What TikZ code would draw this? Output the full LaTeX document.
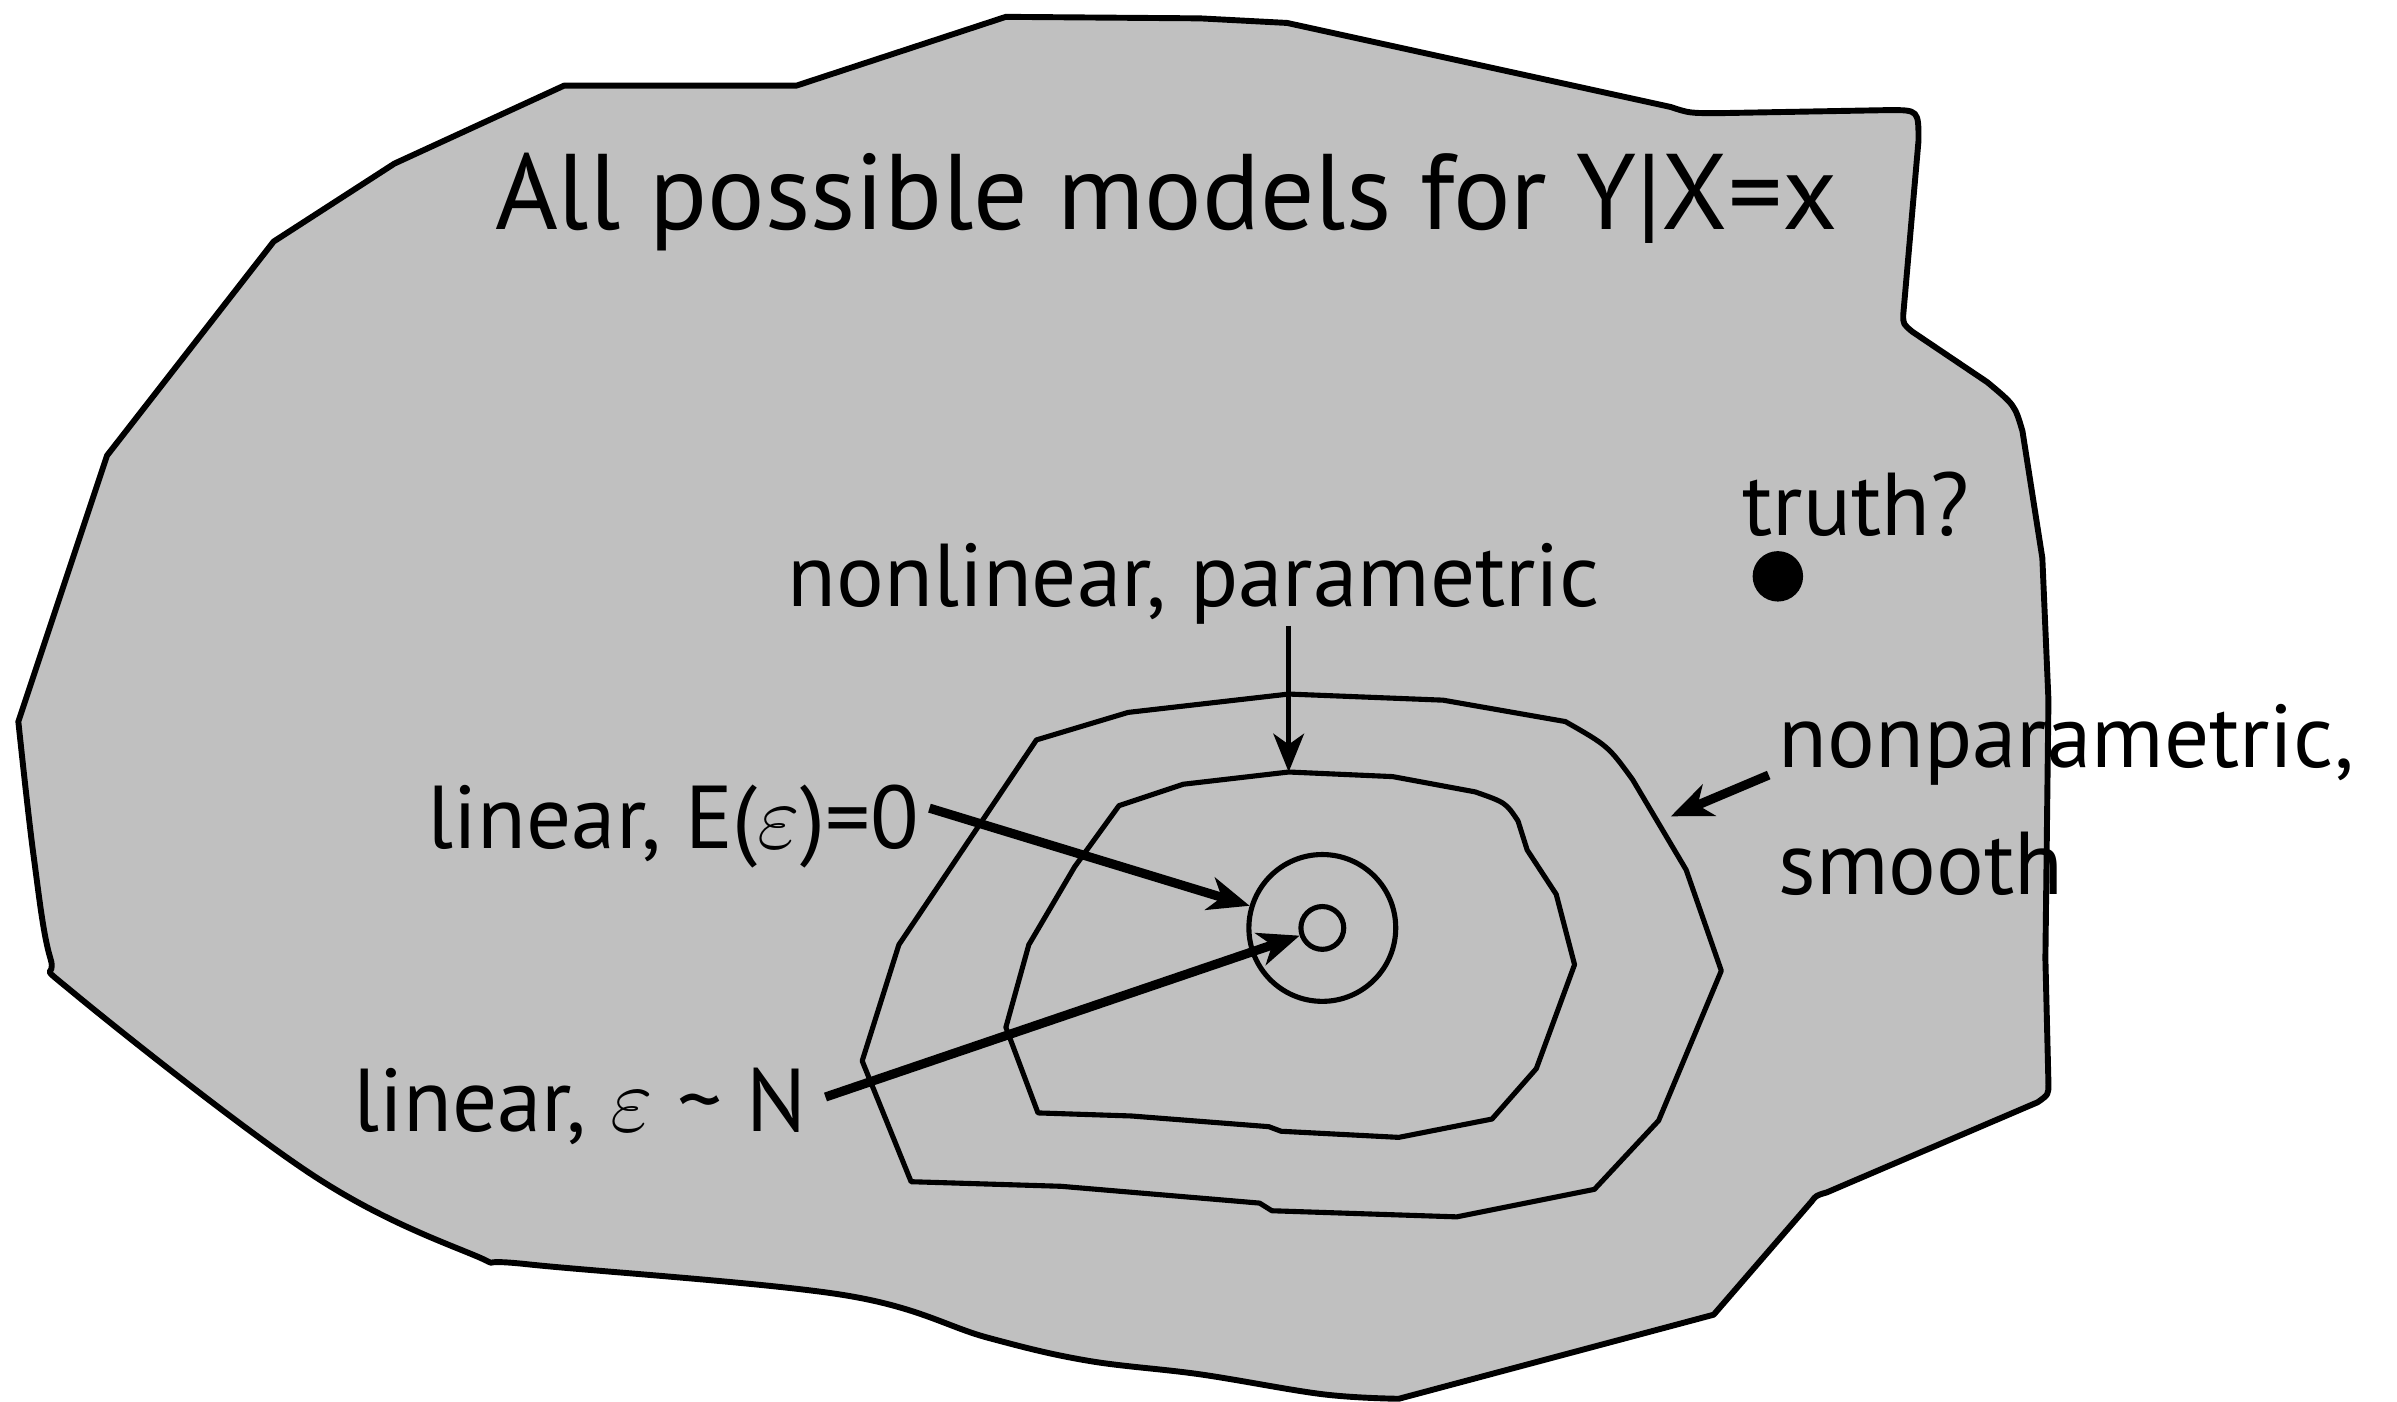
\documentclass[tikz,border=0pt]{standalone}
\usepackage{fontspec}
\setmainfont{PT Sans}
\usepackage{tikz}
\usetikzlibrary{arrows.meta,positioning}
\definecolor{blobgray}{RGB}{192,192,192}

\begin{document}
\begin{tikzpicture}[
    x=0.01cm, y=-0.01cm,
    region/.style={draw, line width=1.1pt, fill=blobgray, line join=round},
    contour/.style={draw, line width=0.95pt, line join=round},
    ring/.style={circle, draw, line width=0.95pt, inner sep=0pt, minimum size=#1},
    label/.style={inner sep=0pt, font=\fontsize{16.6}{18.5}\selectfont},
    arrow/.style={-{Stealth[length=2.7mm, width=2.2mm, inset=0.8mm]}, line width=1.7pt},
    thinarrow/.style={-{Stealth[length=2.5mm, width=2mm, inset=0.7mm]}, line width=0.95pt},
]

\useasboundingbox (0,0) rectangle (1568,917);

% All possible models
\draw[region] (12,472) -- (70,298) -- (179,158) -- (258,107) -- (369,56) -- (521,56)
    -- (658,11) -- (785,12) -- (842,15) -- (1093,70) .. controls (1105,74) .. (1125,74)
    -- (1236,72) .. controls (1255,72) .. (1255,92) -- (1245,206)
    .. controls (1245,212) .. (1251,217) -- (1300,250) .. controls (1318,265) .. (1323,282)
    -- (1336,365) -- (1340,458) -- (1338,627) -- (1340,709) .. controls (1340,716) .. (1333,721)
    -- (1195,780) .. controls (1188,782) .. (1185,786) -- (1121,860) -- (915,915)
    -- plot[smooth, tension=0.6] coordinates {(915,915) (865,912) (785,899) (711,890) (646,875)
       (551,847) (345,827) (310,821) (205,769) (50,651) (33,627) (22,560) (12,472)} -- cycle;
\node[font=\fontsize{20}{23}\selectfont, inner sep=0pt, anchor=base] (title) at (763,150)
    {All possible models for Y|X=x};

% Nonparametric, smooth
\draw[contour] (843,454) -- (944,458) -- (1024,472) .. controls (1052,488) .. (1068,510)
    -- (1103,569) -- (1126,635) -- (1085,733) -- (1043,778) -- (953,796) -- (832,792)
    -- (824,787) -- (694,776) -- (596,773) -- (564,694) -- (588,618) -- (678,484)
    -- (738,466) -- cycle;

% Nonlinear, parametric
\draw[contour] (843,505) -- (911,508) -- (965,518) .. controls (985,525) .. (993,537)
    -- (999,556) -- (1018,585) -- (1030,631) -- (1005,699) -- (976,732) -- (915,744)
    -- (838,740) -- (830,737) -- (740,730) -- (679,728) -- (658,672) -- (673,618)
    -- (703,567) -- (732,527) -- (774,513) -- cycle;

% Linear models
\node[ring=0.96cm] (linring) at (865,607) {};
\node[ring=0.28cm] (normring) at (865,607) {};

% Truth
\fill (1163,377) circle[radius=16.5];
\node[label, anchor=base] (truth) at (1214,350) {truth?};

% Labels
\node[label, anchor=base] (nlpar) at (781,397) {nonlinear, parametric};
\node[label, anchor=base east] (linE) at (602,555) {linear, E($\varepsilon$)=0};
\node[label, anchor=base east] (linN) at (528,740) {linear, $\varepsilon$ \textasciitilde\ N};
\node[label, anchor=base west, align=left, font=\fontsize{16.6}{23.5}\selectfont]
    (nonpar) at (1163,585) {nonparametric,\\smooth};

\coordinate (innertop) at (843,505);
\coordinate (outerpt) at (1093,534);

% Arrows
\draw[thinarrow] (nlpar.south -| innertop) -- (innertop);
\draw[arrow] ([shift={(6,-12)}]linE.east) -- (linring);
\draw[arrow] ([shift={(12,-6)}]linN.east) -- (normring);
\draw[arrow] ([shift={(-6,-78)}]nonpar.base west) -- (outerpt);

\end{tikzpicture}
\end{document}
